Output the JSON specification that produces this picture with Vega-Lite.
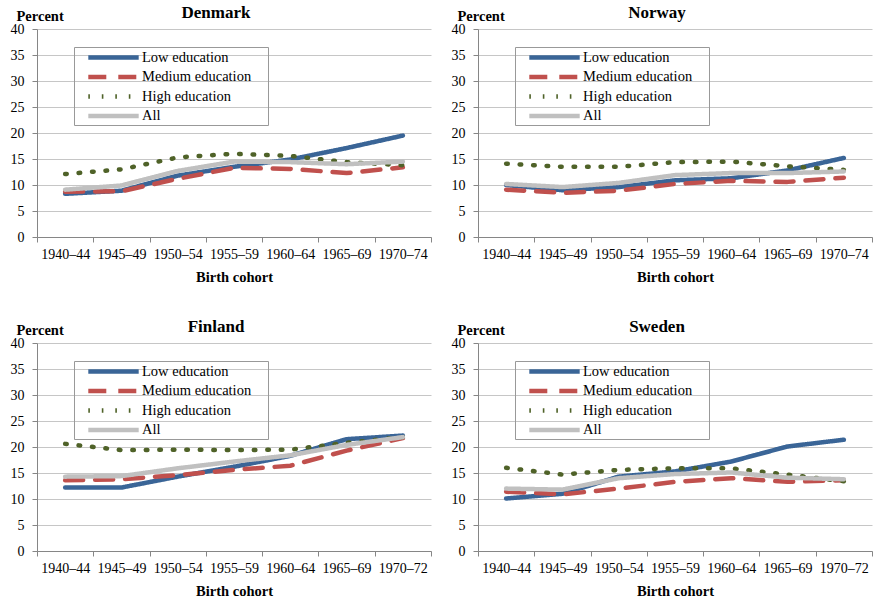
{
  "$schema": "https://vega.github.io/schema/vega-lite/v6.json",
  "padding": {"left": 10, "top": 4, "right": 0, "bottom": 0},
  "spacing": 34,
  "data": {"values": [
    {"country":"Denmark","cohort":"1940–44","series":"Low education","value":8.3},
    {"country":"Denmark","cohort":"1945–49","series":"Low education","value":8.9},
    {"country":"Denmark","cohort":"1950–54","series":"Low education","value":11.8},
    {"country":"Denmark","cohort":"1955–59","series":"Low education","value":13.5},
    {"country":"Denmark","cohort":"1960–64","series":"Low education","value":14.9},
    {"country":"Denmark","cohort":"1965–69","series":"Low education","value":17.1},
    {"country":"Denmark","cohort":"1970–74","series":"Low education","value":19.5},
    {"country":"Denmark","cohort":"1940–44","series":"Medium education","value":8.7},
    {"country":"Denmark","cohort":"1945–49","series":"Medium education","value":8.8},
    {"country":"Denmark","cohort":"1950–54","series":"Medium education","value":11.2},
    {"country":"Denmark","cohort":"1955–59","series":"Medium education","value":13.3},
    {"country":"Denmark","cohort":"1960–64","series":"Medium education","value":13.1},
    {"country":"Denmark","cohort":"1965–69","series":"Medium education","value":12.3},
    {"country":"Denmark","cohort":"1970–74","series":"Medium education","value":13.4},
    {"country":"Denmark","cohort":"1940–44","series":"High education","value":12.1},
    {"country":"Denmark","cohort":"1945–49","series":"High education","value":13.0},
    {"country":"Denmark","cohort":"1950–54","series":"High education","value":15.3},
    {"country":"Denmark","cohort":"1955–59","series":"High education","value":16.0},
    {"country":"Denmark","cohort":"1960–64","series":"High education","value":15.6},
    {"country":"Denmark","cohort":"1965–69","series":"High education","value":14.4},
    {"country":"Denmark","cohort":"1970–74","series":"High education","value":13.8},
    {"country":"Denmark","cohort":"1940–44","series":"All","value":9.1},
    {"country":"Denmark","cohort":"1945–49","series":"All","value":9.9},
    {"country":"Denmark","cohort":"1950–54","series":"All","value":12.7},
    {"country":"Denmark","cohort":"1955–59","series":"All","value":14.5},
    {"country":"Denmark","cohort":"1960–64","series":"All","value":14.4},
    {"country":"Denmark","cohort":"1965–69","series":"All","value":14.0},
    {"country":"Denmark","cohort":"1970–74","series":"All","value":14.5},

    {"country":"Norway","cohort":"1940–44","series":"Low education","value":10.0},
    {"country":"Norway","cohort":"1945–49","series":"Low education","value":9.0},
    {"country":"Norway","cohort":"1950–54","series":"Low education","value":9.6},
    {"country":"Norway","cohort":"1955–59","series":"Low education","value":10.9},
    {"country":"Norway","cohort":"1960–64","series":"Low education","value":11.3},
    {"country":"Norway","cohort":"1965–69","series":"Low education","value":12.8},
    {"country":"Norway","cohort":"1970–74","series":"Low education","value":15.2},
    {"country":"Norway","cohort":"1940–44","series":"Medium education","value":9.1},
    {"country":"Norway","cohort":"1945–49","series":"Medium education","value":8.5},
    {"country":"Norway","cohort":"1950–54","series":"Medium education","value":8.9},
    {"country":"Norway","cohort":"1955–59","series":"Medium education","value":10.2},
    {"country":"Norway","cohort":"1960–64","series":"Medium education","value":10.8},
    {"country":"Norway","cohort":"1965–69","series":"Medium education","value":10.6},
    {"country":"Norway","cohort":"1970–74","series":"Medium education","value":11.4},
    {"country":"Norway","cohort":"1940–44","series":"High education","value":14.1},
    {"country":"Norway","cohort":"1945–49","series":"High education","value":13.5},
    {"country":"Norway","cohort":"1950–54","series":"High education","value":13.5},
    {"country":"Norway","cohort":"1955–59","series":"High education","value":14.4},
    {"country":"Norway","cohort":"1960–64","series":"High education","value":14.5},
    {"country":"Norway","cohort":"1965–69","series":"High education","value":13.6},
    {"country":"Norway","cohort":"1970–74","series":"High education","value":12.9},
    {"country":"Norway","cohort":"1940–44","series":"All","value":10.2},
    {"country":"Norway","cohort":"1945–49","series":"All","value":9.6},
    {"country":"Norway","cohort":"1950–54","series":"All","value":10.4},
    {"country":"Norway","cohort":"1955–59","series":"All","value":11.9},
    {"country":"Norway","cohort":"1960–64","series":"All","value":12.3},
    {"country":"Norway","cohort":"1965–69","series":"All","value":12.3},
    {"country":"Norway","cohort":"1970–74","series":"All","value":12.6},

    {"country":"Finland","cohort":"1940–44","series":"Low education","value":12.2},
    {"country":"Finland","cohort":"1945–49","series":"Low education","value":12.2},
    {"country":"Finland","cohort":"1950–54","series":"Low education","value":14.3},
    {"country":"Finland","cohort":"1955–59","series":"Low education","value":16.2},
    {"country":"Finland","cohort":"1960–64","series":"Low education","value":18.3},
    {"country":"Finland","cohort":"1965–69","series":"Low education","value":21.5},
    {"country":"Finland","cohort":"1970–72","series":"Low education","value":22.2},
    {"country":"Finland","cohort":"1940–44","series":"Medium education","value":13.6},
    {"country":"Finland","cohort":"1945–49","series":"Medium education","value":13.8},
    {"country":"Finland","cohort":"1950–54","series":"Medium education","value":14.6},
    {"country":"Finland","cohort":"1955–59","series":"Medium education","value":15.6},
    {"country":"Finland","cohort":"1960–64","series":"Medium education","value":16.4},
    {"country":"Finland","cohort":"1965–69","series":"Medium education","value":19.3},
    {"country":"Finland","cohort":"1970–72","series":"Medium education","value":21.7},
    {"country":"Finland","cohort":"1940–44","series":"High education","value":20.6},
    {"country":"Finland","cohort":"1945–49","series":"High education","value":19.4},
    {"country":"Finland","cohort":"1950–54","series":"High education","value":19.5},
    {"country":"Finland","cohort":"1955–59","series":"High education","value":19.4},
    {"country":"Finland","cohort":"1960–64","series":"High education","value":19.5},
    {"country":"Finland","cohort":"1965–69","series":"High education","value":20.8},
    {"country":"Finland","cohort":"1970–72","series":"High education","value":21.9},
    {"country":"Finland","cohort":"1940–44","series":"All","value":14.3},
    {"country":"Finland","cohort":"1945–49","series":"All","value":14.4},
    {"country":"Finland","cohort":"1950–54","series":"All","value":15.9},
    {"country":"Finland","cohort":"1955–59","series":"All","value":17.2},
    {"country":"Finland","cohort":"1960–64","series":"All","value":18.4},
    {"country":"Finland","cohort":"1965–69","series":"All","value":20.4},
    {"country":"Finland","cohort":"1970–72","series":"All","value":21.9},

    {"country":"Sweden","cohort":"1940–44","series":"Low education","value":10.1},
    {"country":"Sweden","cohort":"1945–49","series":"Low education","value":11.0},
    {"country":"Sweden","cohort":"1950–54","series":"Low education","value":14.3},
    {"country":"Sweden","cohort":"1955–59","series":"Low education","value":15.3},
    {"country":"Sweden","cohort":"1960–64","series":"Low education","value":17.2},
    {"country":"Sweden","cohort":"1965–69","series":"Low education","value":20.1},
    {"country":"Sweden","cohort":"1970–72","series":"Low education","value":21.4},
    {"country":"Sweden","cohort":"1940–44","series":"Medium education","value":11.4},
    {"country":"Sweden","cohort":"1945–49","series":"Medium education","value":10.9},
    {"country":"Sweden","cohort":"1950–54","series":"Medium education","value":12.0},
    {"country":"Sweden","cohort":"1955–59","series":"Medium education","value":13.3},
    {"country":"Sweden","cohort":"1960–64","series":"Medium education","value":14.0},
    {"country":"Sweden","cohort":"1965–69","series":"Medium education","value":13.3},
    {"country":"Sweden","cohort":"1970–72","series":"Medium education","value":13.6},
    {"country":"Sweden","cohort":"1940–44","series":"High education","value":16.0},
    {"country":"Sweden","cohort":"1945–49","series":"High education","value":14.7},
    {"country":"Sweden","cohort":"1950–54","series":"High education","value":15.6},
    {"country":"Sweden","cohort":"1955–59","series":"High education","value":15.9},
    {"country":"Sweden","cohort":"1960–64","series":"High education","value":15.9},
    {"country":"Sweden","cohort":"1965–69","series":"High education","value":14.7},
    {"country":"Sweden","cohort":"1970–72","series":"High education","value":13.4},
    {"country":"Sweden","cohort":"1940–44","series":"All","value":12.0},
    {"country":"Sweden","cohort":"1945–49","series":"All","value":11.8},
    {"country":"Sweden","cohort":"1950–54","series":"All","value":14.0},
    {"country":"Sweden","cohort":"1955–59","series":"All","value":14.8},
    {"country":"Sweden","cohort":"1960–64","series":"All","value":15.1},
    {"country":"Sweden","cohort":"1965–69","series":"All","value":14.1},
    {"country":"Sweden","cohort":"1970–72","series":"All","value":13.8}
  ]},
  "config": {
    "font": "Liberation Serif, Times New Roman, DejaVu Serif, serif",
    "view": {"stroke": null},
    "style": {"guide-label": {"font": "Liberation Serif, Times New Roman, DejaVu Serif, serif", "fill": "#000"}, "guide-title": {"font": "Liberation Serif, Times New Roman, DejaVu Serif, serif", "fill": "#000"}},
    "axis": {"labelFont": "Liberation Serif, Times New Roman, DejaVu Serif, serif", "labelFontSize": 14, "labelColor": "#000", "titleFont": "Liberation Serif, Times New Roman, DejaVu Serif, serif", "titleFontSize": 14.5, "titleFontWeight": "bold", "titleColor": "#000", "domainColor": "#868686", "tickColor": "#868686", "gridColor": "#c6c6c6"},
    "axisX": {"labelFont": "Liberation Serif, Times New Roman, DejaVu Serif, serif", "grid": false, "tickBand": "extent", "labelAngle": 0, "tickSize": 5, "labelPadding": 5, "titlePadding": 9},
    "axisY": {"labelFont": "Liberation Serif, Times New Roman, DejaVu Serif, serif", "tickSize": 5, "labelPadding": 8, "titleAngle": 0, "titleAlign": "left", "titleBaseline": "alphabetic", "titleX": -21, "titleY": -9},
    "legend": {"title": null, "labelFont": "Liberation Serif, Times New Roman, DejaVu Serif, serif", "labelFontSize": 14.5, "labelColor": "#000", "symbolType": "M-4.2,0H4.2", "symbolSize": 144, "rowPadding": 4.5, "padding": 2, "strokeColor": "#999", "symbolOffset": 29, "labelOffset": 20},
    "title": {"font": "Liberation Serif, Times New Roman, DejaVu Serif, serif", "fontSize": 17, "fontWeight": "bold", "color": "#000", "anchor": "middle", "offset": -14},
    "line": {"strokeCap": "round", "strokeJoin": "round"}
  },
  "resolve": {"scale": {"x": "independent", "stroke": "independent", "strokeDash": "independent", "strokeWidth": "independent"}},
  "vconcat": [
    {"spacing": 19, "resolve": {"scale": {"x": "independent", "stroke": "independent", "strokeDash": "independent", "strokeWidth": "independent"}},
     "hconcat": [
      {"width": 394, "height": 208, "title": {"text": "Denmark", "dx": -18},
       "transform": [{"filter": "datum.country === 'Denmark'"}],
       "mark": {"type": "line"},
       "encoding": {
         "x": {"field": "cohort", "type": "ordinal", "sort": null, "bandPosition": 0.5, "scale": {"type": "band", "paddingInner": 0, "paddingOuter": 0}, "axis": {"title": "Birth cohort"}},
         "y": {"field": "value", "type": "quantitative", "scale": {"domain": [0, 40]}, "axis": {"values": [0,5,10,15,20,25,30,35,40], "title": "Percent"}},
         "stroke": {"field": "series", "type": "nominal", "scale": {"domain": ["Low education","Medium education","High education","All"], "range": ["#3a6597","#c0504d","#4f6228","#c0c0c0"]}, "legend": {"orient": "none", "legendX": 37, "legendY": 18, "labelExpr": "datum.label + '\u00a0\u00a0\u00a0\u00a0\u200b'", "encode": {"legend": {"strokeDash": {"value": [1,1]}}, "symbols": {"strokeCap": {"value": "round"}}}}},
         "strokeDash": {"field": "series", "type": "nominal", "scale": {"domain": ["Low education","Medium education","High education","All"], "range": [[1,0],[18,12],[1.6,11.9],[1,0]]}, "legend": {"orient": "none", "legendX": 37, "legendY": 18, "labelExpr": "datum.label + '\u00a0\u00a0\u00a0\u00a0\u200b'", "encode": {"legend": {"strokeDash": {"value": [1,1]}}, "symbols": {"strokeCap": {"value": "round"}}}}},
         "strokeWidth": {"field": "series", "type": "nominal", "scale": {"domain": ["Low education","Medium education","High education","All"], "range": [4.5,4.5,5.2,5.5]}, "legend": {"orient": "none", "legendX": 37, "legendY": 18, "labelExpr": "datum.label + '\u00a0\u00a0\u00a0\u00a0\u200b'", "encode": {"legend": {"strokeDash": {"value": [1,1]}}, "symbols": {"strokeCap": {"value": "round"}}}}}
       }},
      {"width": 394, "height": 208, "title": {"text": "Norway", "dx": -18},
       "transform": [{"filter": "datum.country === 'Norway'"}],
       "mark": {"type": "line"},
       "encoding": {
         "x": {"field": "cohort", "type": "ordinal", "sort": null, "bandPosition": 0.5, "scale": {"type": "band", "paddingInner": 0, "paddingOuter": 0}, "axis": {"title": "Birth cohort"}},
         "y": {"field": "value", "type": "quantitative", "scale": {"domain": [0, 40]}, "axis": {"values": [0,5,10,15,20,25,30,35,40], "title": "Percent"}},
         "stroke": {"field": "series", "type": "nominal", "scale": {"domain": ["Low education","Medium education","High education","All"], "range": ["#3a6597","#c0504d","#4f6228","#c0c0c0"]}, "legend": {"orient": "none", "legendX": 37, "legendY": 18, "labelExpr": "datum.label + '\u00a0\u00a0\u00a0\u00a0\u200b'", "encode": {"legend": {"strokeDash": {"value": [1,1]}}, "symbols": {"strokeCap": {"value": "round"}}}}},
         "strokeDash": {"field": "series", "type": "nominal", "scale": {"domain": ["Low education","Medium education","High education","All"], "range": [[1,0],[18,12],[1.6,11.9],[1,0]]}, "legend": {"orient": "none", "legendX": 37, "legendY": 18, "labelExpr": "datum.label + '\u00a0\u00a0\u00a0\u00a0\u200b'", "encode": {"legend": {"strokeDash": {"value": [1,1]}}, "symbols": {"strokeCap": {"value": "round"}}}}},
         "strokeWidth": {"field": "series", "type": "nominal", "scale": {"domain": ["Low education","Medium education","High education","All"], "range": [4.5,4.5,5.2,5.5]}, "legend": {"orient": "none", "legendX": 37, "legendY": 18, "labelExpr": "datum.label + '\u00a0\u00a0\u00a0\u00a0\u200b'", "encode": {"legend": {"strokeDash": {"value": [1,1]}}, "symbols": {"strokeCap": {"value": "round"}}}}}
       }}
    ]},
    {"spacing": 19, "resolve": {"scale": {"x": "independent", "stroke": "independent", "strokeDash": "independent", "strokeWidth": "independent"}},
     "hconcat": [
      {"width": 394, "height": 208, "title": {"text": "Finland", "dx": -18},
       "transform": [{"filter": "datum.country === 'Finland'"}],
       "mark": {"type": "line"},
       "encoding": {
         "x": {"field": "cohort", "type": "ordinal", "sort": null, "bandPosition": 0.5, "scale": {"type": "band", "paddingInner": 0, "paddingOuter": 0}, "axis": {"title": "Birth cohort"}},
         "y": {"field": "value", "type": "quantitative", "scale": {"domain": [0, 40]}, "axis": {"values": [0,5,10,15,20,25,30,35,40], "title": "Percent"}},
         "stroke": {"field": "series", "type": "nominal", "scale": {"domain": ["Low education","Medium education","High education","All"], "range": ["#3a6597","#c0504d","#4f6228","#c0c0c0"]}, "legend": {"orient": "none", "legendX": 37, "legendY": 18, "labelExpr": "datum.label + '\u00a0\u00a0\u00a0\u00a0\u200b'", "encode": {"legend": {"strokeDash": {"value": [1,1]}}, "symbols": {"strokeCap": {"value": "round"}}}}},
         "strokeDash": {"field": "series", "type": "nominal", "scale": {"domain": ["Low education","Medium education","High education","All"], "range": [[1,0],[18,12],[1.6,11.9],[1,0]]}, "legend": {"orient": "none", "legendX": 37, "legendY": 18, "labelExpr": "datum.label + '\u00a0\u00a0\u00a0\u00a0\u200b'", "encode": {"legend": {"strokeDash": {"value": [1,1]}}, "symbols": {"strokeCap": {"value": "round"}}}}},
         "strokeWidth": {"field": "series", "type": "nominal", "scale": {"domain": ["Low education","Medium education","High education","All"], "range": [4.5,4.5,5.2,5.5]}, "legend": {"orient": "none", "legendX": 37, "legendY": 18, "labelExpr": "datum.label + '\u00a0\u00a0\u00a0\u00a0\u200b'", "encode": {"legend": {"strokeDash": {"value": [1,1]}}, "symbols": {"strokeCap": {"value": "round"}}}}}
       }},
      {"width": 394, "height": 208, "title": {"text": "Sweden", "dx": -18},
       "transform": [{"filter": "datum.country === 'Sweden'"}],
       "mark": {"type": "line"},
       "encoding": {
         "x": {"field": "cohort", "type": "ordinal", "sort": null, "bandPosition": 0.5, "scale": {"type": "band", "paddingInner": 0, "paddingOuter": 0}, "axis": {"title": "Birth cohort"}},
         "y": {"field": "value", "type": "quantitative", "scale": {"domain": [0, 40]}, "axis": {"values": [0,5,10,15,20,25,30,35,40], "title": "Percent"}},
         "stroke": {"field": "series", "type": "nominal", "scale": {"domain": ["Low education","Medium education","High education","All"], "range": ["#3a6597","#c0504d","#4f6228","#c0c0c0"]}, "legend": {"orient": "none", "legendX": 37, "legendY": 18, "labelExpr": "datum.label + '\u00a0\u00a0\u00a0\u00a0\u200b'", "encode": {"legend": {"strokeDash": {"value": [1,1]}}, "symbols": {"strokeCap": {"value": "round"}}}}},
         "strokeDash": {"field": "series", "type": "nominal", "scale": {"domain": ["Low education","Medium education","High education","All"], "range": [[1,0],[18,12],[1.6,11.9],[1,0]]}, "legend": {"orient": "none", "legendX": 37, "legendY": 18, "labelExpr": "datum.label + '\u00a0\u00a0\u00a0\u00a0\u200b'", "encode": {"legend": {"strokeDash": {"value": [1,1]}}, "symbols": {"strokeCap": {"value": "round"}}}}},
         "strokeWidth": {"field": "series", "type": "nominal", "scale": {"domain": ["Low education","Medium education","High education","All"], "range": [4.5,4.5,5.2,5.5]}, "legend": {"orient": "none", "legendX": 37, "legendY": 18, "labelExpr": "datum.label + '\u00a0\u00a0\u00a0\u00a0\u200b'", "encode": {"legend": {"strokeDash": {"value": [1,1]}}, "symbols": {"strokeCap": {"value": "round"}}}}}
       }}
    ]}
  ]
}
